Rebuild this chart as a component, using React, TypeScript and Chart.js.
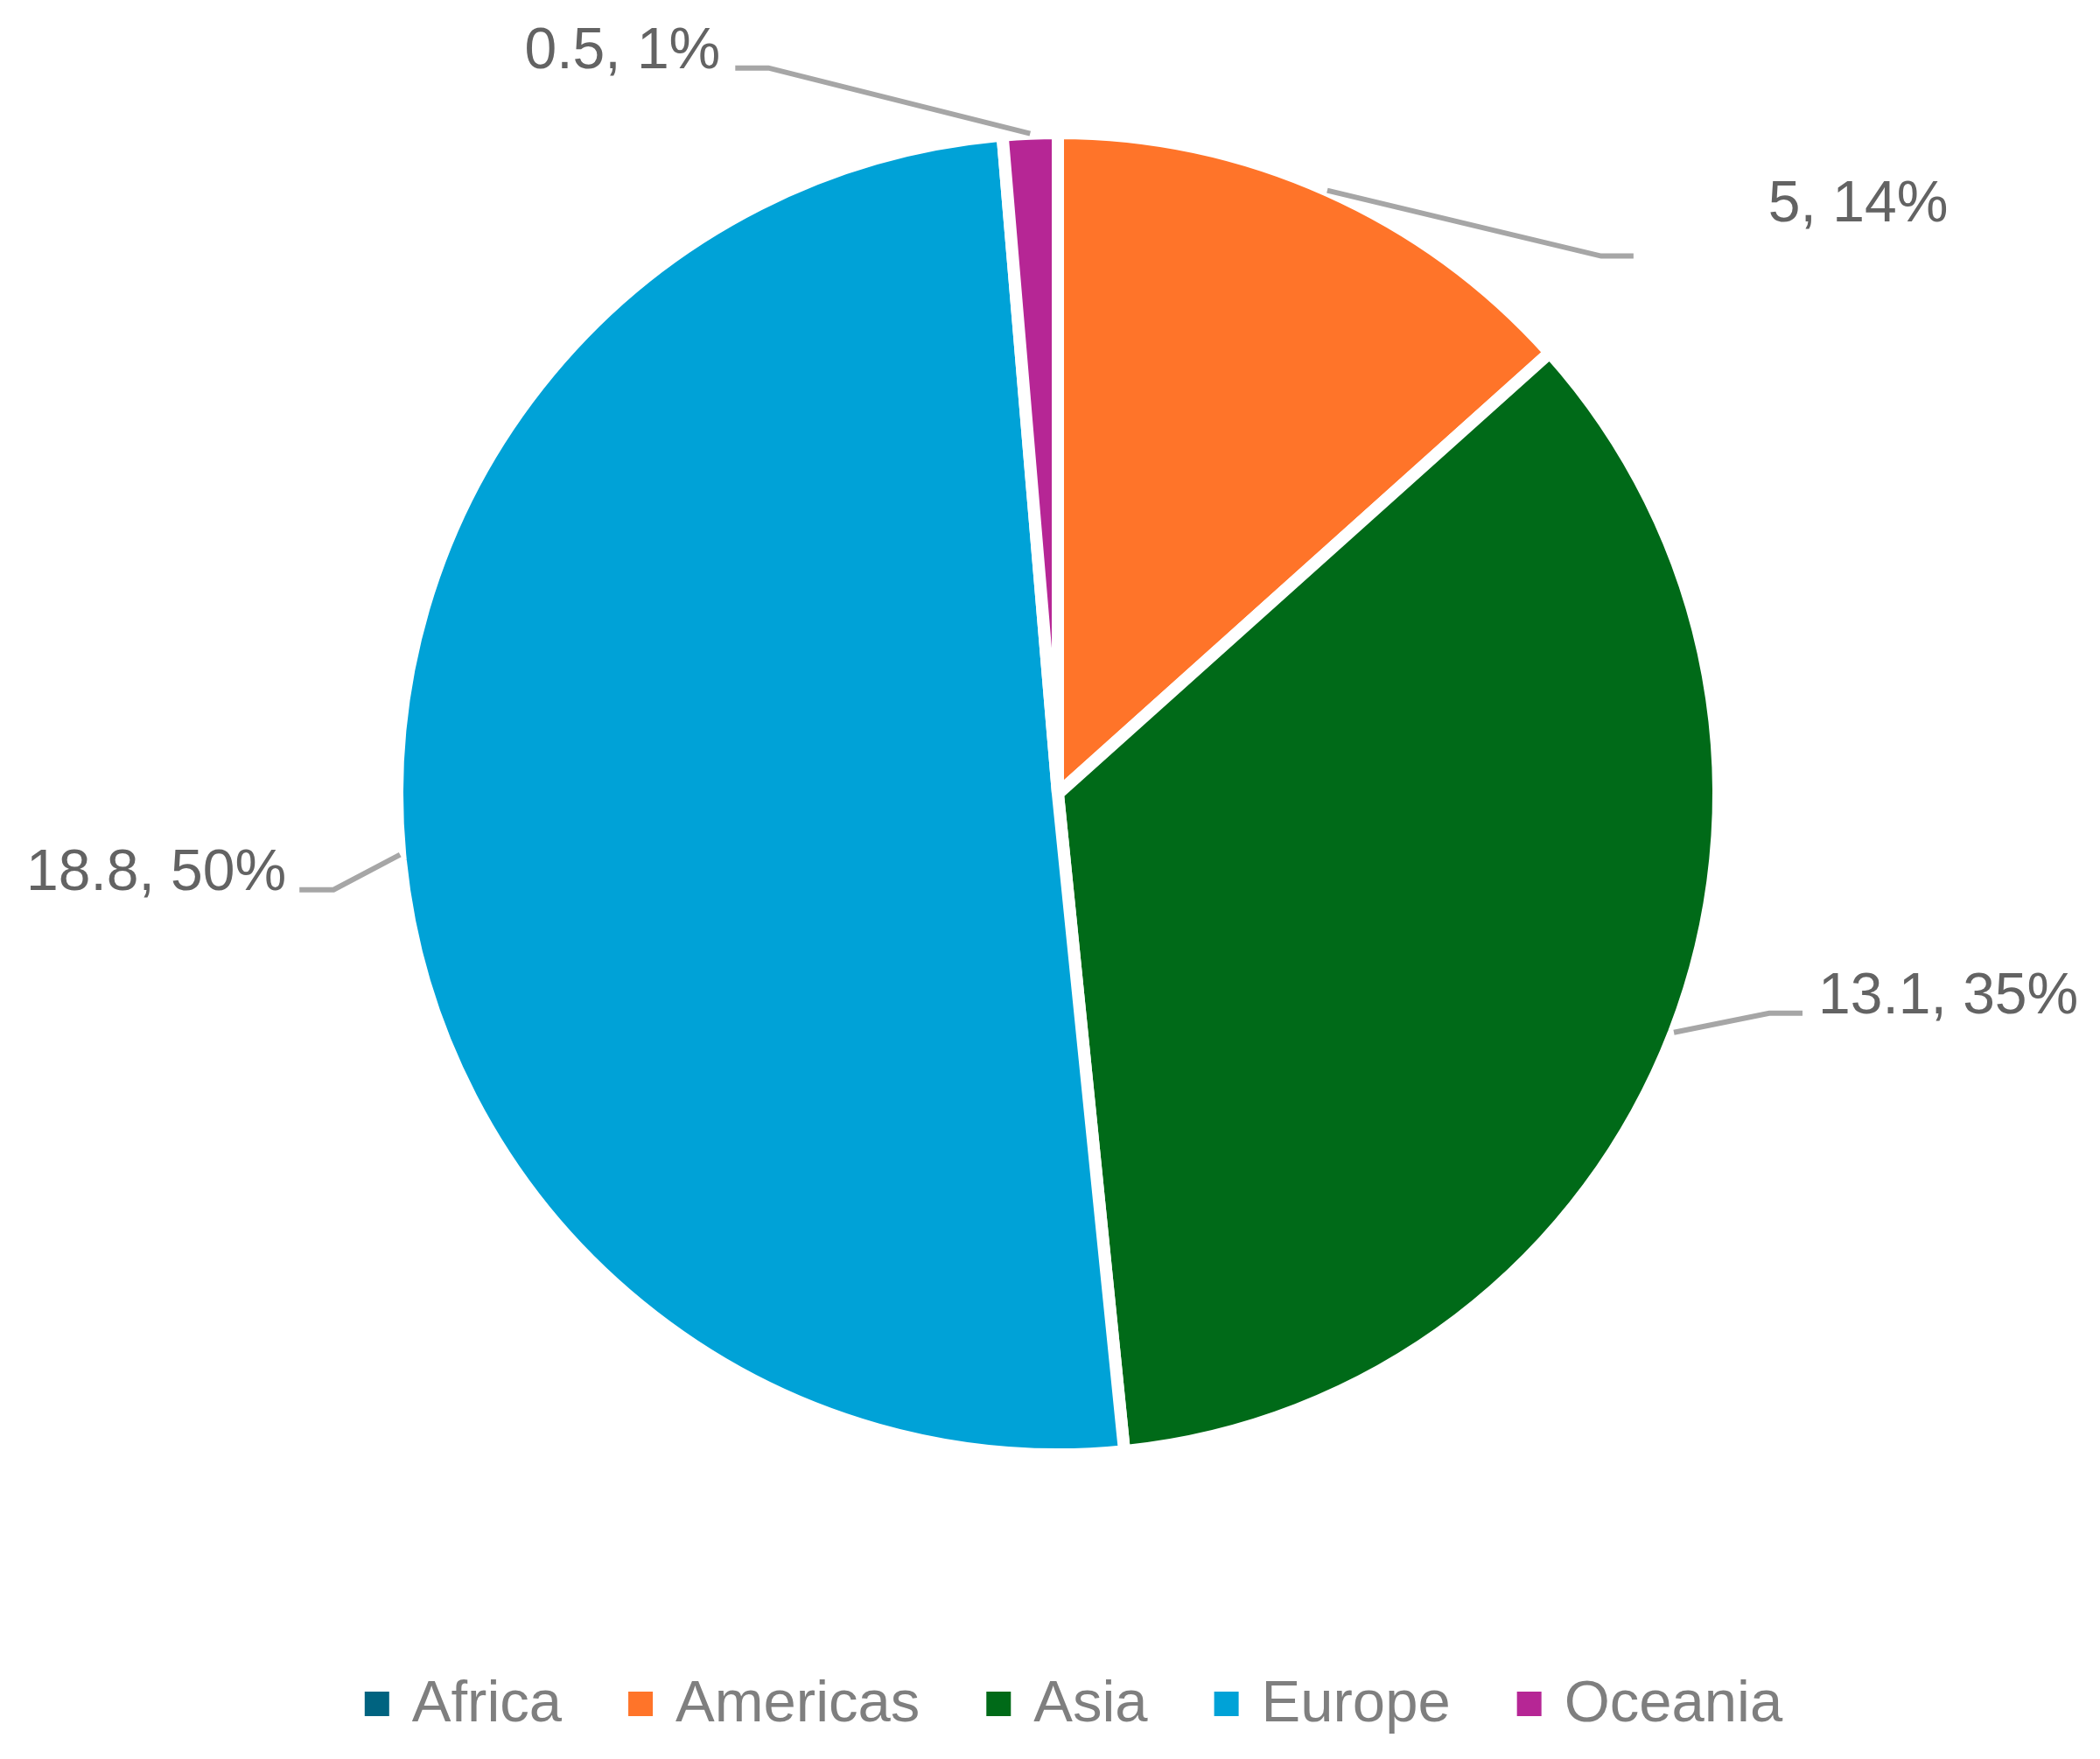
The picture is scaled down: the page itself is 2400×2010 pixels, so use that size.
import React, { useEffect, useRef } from "react";
import { Chart, registerables } from "chart.js";

Chart.register(...registerables);

// ---- data ----
const categories = ["Africa", "Americas", "Asia", "Europe", "Oceania"];
const values = [0, 5, 13.1, 18.8, 0.5];
const percentLabels = [0, 14, 35, 50, 1];
const sliceColors = ["#006380", "#FF7429", "#006A18", "#00A2D7", "#B62695"];

// ---- label placement (style config, not data) ----
// ex/ey: leader elbow offset from the slice's outer mid point; run: horizontal leader run;
// tx/ty: text anchor offset from the leader end.
const labelLayout = [
  null,
  { ex: 313, ey: 75, run: 37, tx: 154, ty: -40, align: "left" },
  { ex: 109, ey: -22, run: 38, tx: 18, ty: 0, align: "left" },
  { ex: -76, ey: 40, run: -39, tx: -15, ty: 0, align: "right" },
  { ex: -299, ey: -75, run: -38, tx: -17, ty: 0, align: "right" },
];

const FONT = "'Liberation Sans', Arial, sans-serif";

const labelsAndLegendPlugin = {
  id: "labelsAndLegend",
  afterDraw(chart: any) {
    const ctx = chart.ctx as CanvasRenderingContext2D;
    const meta = chart.getDatasetMeta(0);
    ctx.save();
    // data labels with leader lines
    meta.data.forEach((arc: any, i: number) => {
      const v = values[i];
      const lay = labelLayout[i];
      if (!v || !lay) return;
      const p = arc.getProps(["x", "y", "startAngle", "endAngle", "outerRadius"], true);
      const mid = (p.startAngle + p.endAngle) / 2;
      const sx = p.x + Math.cos(mid) * p.outerRadius;
      const sy = p.y + Math.sin(mid) * p.outerRadius;
      const exx = sx + lay.ex;
      const eyy = sy + lay.ey;
      const endX = exx + lay.run;
      ctx.beginPath();
      ctx.moveTo(sx, sy);
      ctx.lineTo(exx, eyy);
      ctx.lineTo(endX, eyy);
      ctx.strokeStyle = "#A6A6A6";
      ctx.lineWidth = 6;
      ctx.lineJoin = "miter";
      ctx.stroke();
      ctx.font = `66px ${FONT}`;
      ctx.fillStyle = "#636363";
      ctx.textAlign = lay.align as CanvasTextAlign;
      ctx.textBaseline = "alphabetic";
      ctx.fillText(`${v}, ${percentLabels[i]}%`, endX + lay.tx, eyy + lay.ty);
    });

    // legend
    const fontSize = 67;
    const box = 28;
    const boxGap = 26;
    const itemGap = 76;
    ctx.font = `${fontSize}px ${FONT}`;
    const widths = categories.map((c) => ctx.measureText(c).width);
    const total =
      widths.reduce((a, b) => a + b, 0) + categories.length * (box + boxGap) + (categories.length - 1) * itemGap;
    const centerX = chart.width / 2 + 27;
    const baseline = chart.height - 43;
    let x = centerX - total / 2;
    ctx.textAlign = "left";
    ctx.textBaseline = "alphabetic";
    categories.forEach((c, i) => {
      ctx.fillStyle = sliceColors[i];
      ctx.fillRect(x, baseline - 34, box, box);
      x += box + boxGap;
      ctx.fillStyle = "#7F7F7F";
      ctx.fillText(c, x, baseline);
      x += widths[i] + itemGap;
    });
    ctx.restore();
  },
};

export default function App() {
  const ref = useRef<HTMLCanvasElement | null>(null);
  useEffect(() => {
    if (!ref.current) return;
    const chart = new Chart(ref.current, {
      type: "pie",
      data: {
        labels: categories,
        datasets: [
          {
            data: values,
            backgroundColor: sliceColors,
            borderColor: "#FFFFFF",
            borderWidth: 14,
            borderAlign: "center",
          },
        ],
      },
      options: {
        responsive: false,
        animation: false,
        devicePixelRatio: 1,
        layout: { padding: { top: 145, bottom: 341, left: 18, right: 0 } },
        plugins: {
          legend: { display: false },
          tooltip: { enabled: false },
        },
      },
      plugins: [labelsAndLegendPlugin],
    });
    return () => chart.destroy();
  }, []);
  return (
    <div style={{ position: "absolute", left: 0, top: 0, width: 2400, height: 2010, background: "#FFFFFF" }}>
      <canvas ref={ref} width={2400} height={2010} style={{ width: 2400, height: 2010, display: "block" }} />
    </div>
  );
}
